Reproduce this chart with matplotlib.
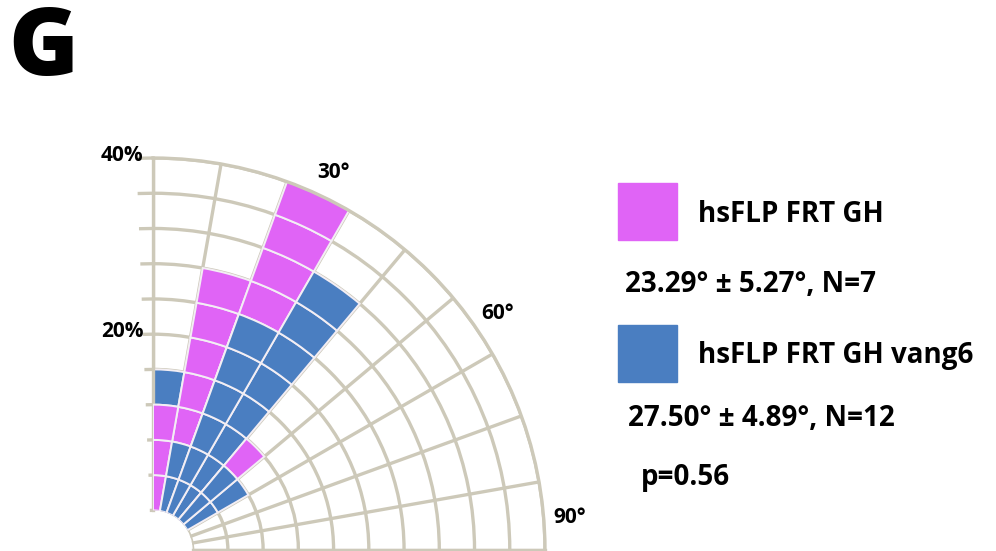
import numpy as np
import matplotlib.pyplot as plt
from matplotlib.patches import Rectangle

plt.rcParams['font.family'] = ['Open Sans', 'DejaVu Sans']
plt.rcParams['font.weight'] = 'bold'

# Data (percent of cells per 10 degree bin)
bin_start = [0, 10, 20, 30, 40, 50]
gh = [12, 28, 40, 0, 12, 0]
gh_vang6 = [16, 8, 24, 32, 8, 8]
ring_step = 4
rmax = 40

names = ['hsFLP FRT GH', 'hsFLP FRT GH vang6']
stats = ['23.29\u00b0 \u00b1 5.27\u00b0, N=7', '27.50\u00b0 \u00b1 4.89\u00b0, N=12']
pval = 'p=0.56'
colors = ['#e064f6', '#4a7ec1']
grid_col = '#cdc9b9'

W, H = 996, 551
fig = plt.figure(figsize=(W / 100, H / 100), dpi=100)
ax = fig.add_axes([153 / W, 1 / H, 392 / W, 392 / H], projection='polar')
ax.set_theta_zero_location('N')
ax.set_theta_direction(-1)
ax.set_thetamin(0)
ax.set_thetamax(90)
ax.set_rlim(0, rmax)
ax.set_rorigin(-4.5)

ax.set_rticks(np.arange(0, rmax + 1, ring_step))
ax.set_yticklabels([])
ax.set_thetagrids(np.arange(0, 91, 10), labels=[''] * 10)
ax.tick_params(axis='both', length=0)
ax.grid(color=grid_col, lw=2.4)
ax.set_axisbelow(True)
for name, sp in ax.spines.items():
    if name == 'inner':
        # polar axes turns this one back on at draw time, so blank it instead
        sp.set_color('none')
        sp.set_linewidth(0)
    else:
        sp.set_color(grid_col)
        sp.set_linewidth(2.4)

# little stubs to the left of the 0 line
for r in np.arange(0, rmax + 1, ring_step):
    ax.plot(np.radians([-2.2, 0]), [r, r], color=grid_col, lw=2.4, clip_on=False)

# bars drawn as 4% cells, shorter series in front
width = np.radians(10)
for i, b in enumerate(bin_start):
    vals = [gh[i], gh_vang6[i]]
    for s in range(2):
        h = vals[s]
        z = 3 if h <= vals[1 - s] else 2
        for k in range(0, h, ring_step):
            ax.bar(np.radians(b + 5), ring_step, width=width, bottom=k,
                   color=colors[s], edgecolor='#f3eef4', linewidth=1.4, zorder=z)

# radial labels
for r in [40, 20]:
    ax.annotate('%d%%' % r, xy=(0, r), xytext=(-7, 2), textcoords='offset points',
                ha='right', va='center', fontsize=15, annotation_clip=False)
# angle labels
for d in [30, 60, 90]:
    ax.text(np.radians(d - 4.5), 43, '%d\u00b0' % d, ha='center', va='center', fontsize=15)

fig.text(8 / W, 1 - 50 / H, 'G', fontsize=68, fontweight='heavy', ha='left', va='center')

# legend
for j, (y0, y1) in enumerate([(183, 240), (325, 382)]):
    fig.add_artist(Rectangle((618 / W, 1 - y1 / H), 59 / W, (y1 - y0) / H,
                             transform=fig.transFigure, color=colors[j]))
fs = 20
fig.text(698 / W, 1 - 214 / H, names[0], fontsize=fs, ha='left', va='center')
fig.text(625 / W, 1 - 284 / H, stats[0], fontsize=fs, ha='left', va='center')
fig.text(698 / W, 1 - 356 / H, names[1], fontsize=fs, ha='left', va='center')
fig.text(628 / W, 1 - 418 / H, stats[1], fontsize=fs, ha='left', va='center')
fig.text(641 / W, 1 - 478 / H, pval, fontsize=fs, ha='left', va='center')

fig.savefig('out.png', dpi=100)
